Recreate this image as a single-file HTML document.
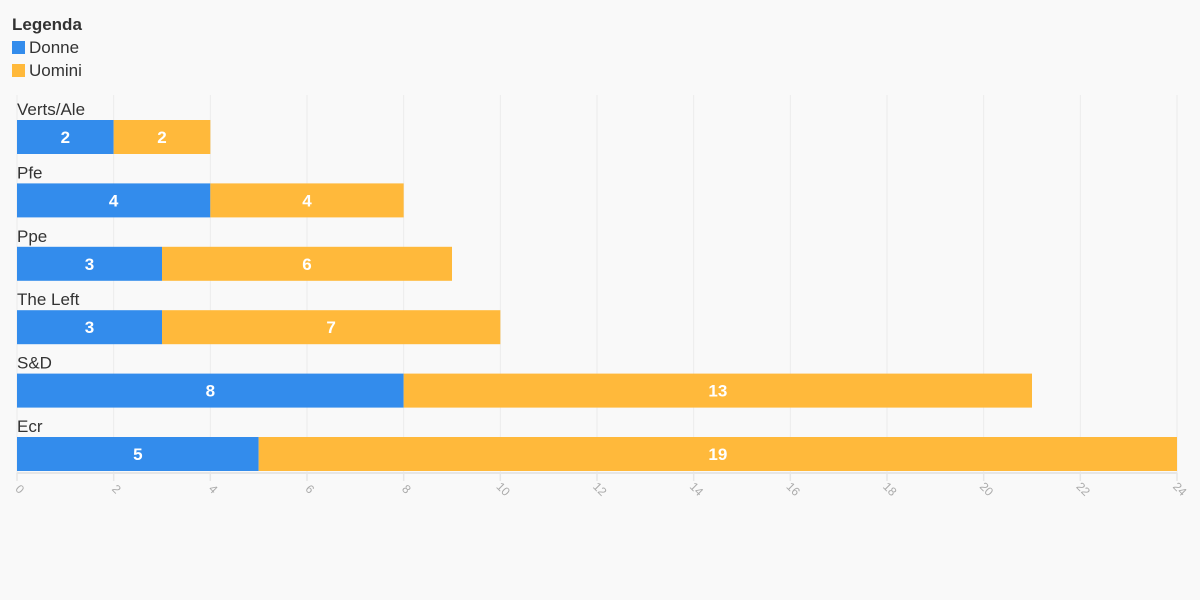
<!DOCTYPE html>
<html><head><meta charset="utf-8"><style>
body{margin:0;background:#f9f9f9;font-family:"Liberation Sans",sans-serif;}
svg{display:block}
</style></head><body>
<svg width="1200" height="600">
<rect width="1200" height="600" fill="#f9f9f9"/>
<g>
<text x="12" y="30" font-size="17" font-weight="bold" fill="#333">Legenda</text>
<rect x="12" y="41" width="13" height="13" fill="#338cec"/>
<text x="29" y="53" font-size="17" fill="#333">Donne</text>
<rect x="12" y="64" width="13" height="13" fill="#ffb93b"/>
<text x="29" y="76" font-size="17" fill="#333">Uomini</text>
</g>
<g id="grid"></g>
<g id="bars"></g>
<g id="axis"></g>
</svg>
<script>
const categories=["Verts/Ale","Pfe","Ppe","The Left","S&D","Ecr"];
const donne=[2,4,3,3,8,5];
const uomini=[2,4,6,7,13,19];
const ticks=[0,2,4,6,8,10,12,14,16,18,20,22,24];
const NS="http://www.w3.org/2000/svg";
const x0=17,x1=1177,maxV=24;
const xs=v=>x0+(x1-x0)*v/maxV;
const rowY=i=>120+i*63.4;
const barH=34;
function mk(tag,attrs,parent){const e=document.createElementNS(NS,tag);for(const k in attrs)e.setAttribute(k,attrs[k]);parent.appendChild(e);return e;}
const grid=document.getElementById('grid'),bars=document.getElementById('bars'),axis=document.getElementById('axis');
ticks.forEach(t=>{
 const l=mk('line',{x1:xs(t),x2:xs(t),y1:95,y2:473,stroke:'#ececec','stroke-width':1},grid);
 
 
 const tk=mk('line',{x1:xs(t),x2:xs(t),y1:473,y2:481,stroke:'#e6e6e6','stroke-width':1.5},axis);
 
 
 const tx=mk('text',{x:xs(t),y:492,'font-size':12,fill:'#aaa','text-anchor':'middle',transform:`rotate(45 ${xs(t)} 492)`},axis);
 tx.textContent=t;
 
 
});
const al=mk('line',{x1:x0,x2:x1,y1:473,y2:473,stroke:'#e6e6e6','stroke-width':2},axis);


categories.forEach((c,i)=>{
 const y=rowY(i);
 const lab=mk('text',{x:17,y:y-5,'font-size':17,fill:'#333'},bars);
 lab.textContent=c;
 
 
 const segs=[[0,donne[i],'#338cec','donne'],[donne[i],donne[i]+uomini[i],'#ffb93b','uomini']];
 segs.forEach(([a,b,col,n])=>{
  const r=mk('rect',{x:xs(a),y:y,width:xs(b)-xs(a),height:barH,fill:col},bars);
  
  
  const v=mk('text',{x:(xs(a)+xs(b))/2,y:y+23,'font-size':17,'font-weight':'bold',fill:'#fff','text-anchor':'middle'},bars);
  v.textContent=b-a;
  
  
 });
});
</script>
</body></html>
